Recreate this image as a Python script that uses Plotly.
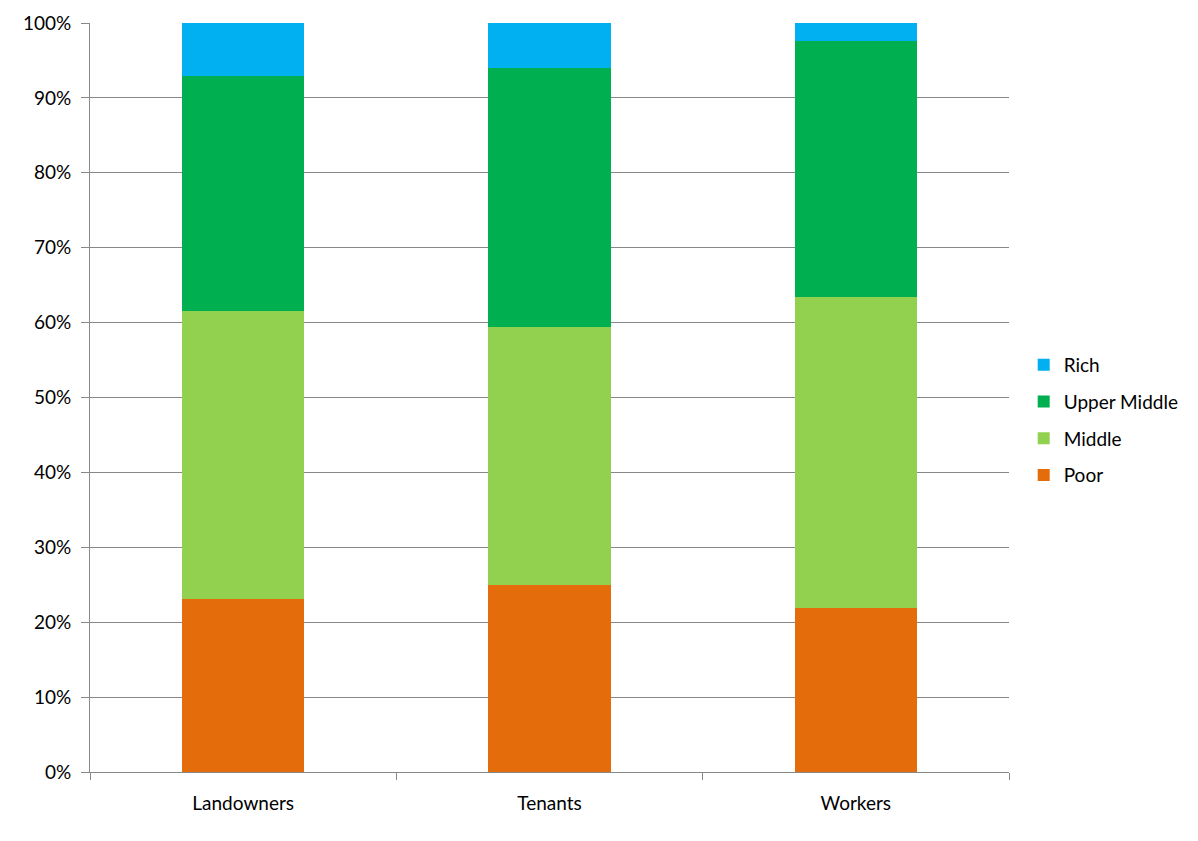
import plotly.graph_objects as go

categories = ["Landowners", "Tenants", "Workers"]
poor = [23.1, 25.0, 21.9]
middle = [38.4, 34.4, 41.5]
upper_middle = [31.4, 34.6, 34.2]
rich = [7.1, 6.0, 2.4]

series = [
    ("Poor", poor, "#E46C0A", 4),
    ("Middle", middle, "#92D050", 3),
    ("Upper Middle", upper_middle, "#00B050", 2),
    ("Rich", rich, "#00B0F0", 1),
]

fig = go.Figure()
for name, vals, color, rank in series:
    fig.add_trace(go.Bar(x=categories, y=vals, name=name, marker_color=color,
                         marker_line_width=0, width=0.4, legendgroup=name,
                         legendrank=rank))

fig.update_layout(
    barmode="stack",
    width=1198, height=841,
    margin=dict(l=82, r=197, t=15, b=77),
    paper_bgcolor="white", plot_bgcolor="white",
    font=dict(family="Lato, Open Sans, sans-serif", size=19, color="#000000"),
    legend=dict(traceorder="grouped", x=1.016, y=0.47, xanchor="left", yanchor="middle",
                font=dict(size=19), itemwidth=30, tracegroupgap=9),
    showlegend=True,
)
fig.update_yaxes(range=[0, 100], tickvals=list(range(0, 101, 10)),
                 ticktext=[f"{v}%" for v in range(0, 101, 10)],
                 showgrid=True, gridcolor="#888888", gridwidth=1,
                 showline=True, linecolor="#888888", ticks="outside", ticklen=8,
                 tickcolor="#888888", zeroline=False, ticklabelstandoff=6,
                 automargin=False)
fig.update_xaxes(showline=True, linecolor="#888888", ticks="outside", ticklen=7,
                 tickcolor="#888888", tickson="boundaries", showgrid=False,
                 range=[-0.5, 2.5], ticklabelstandoff=14, automargin=False)

fig.write_html("out.html")
